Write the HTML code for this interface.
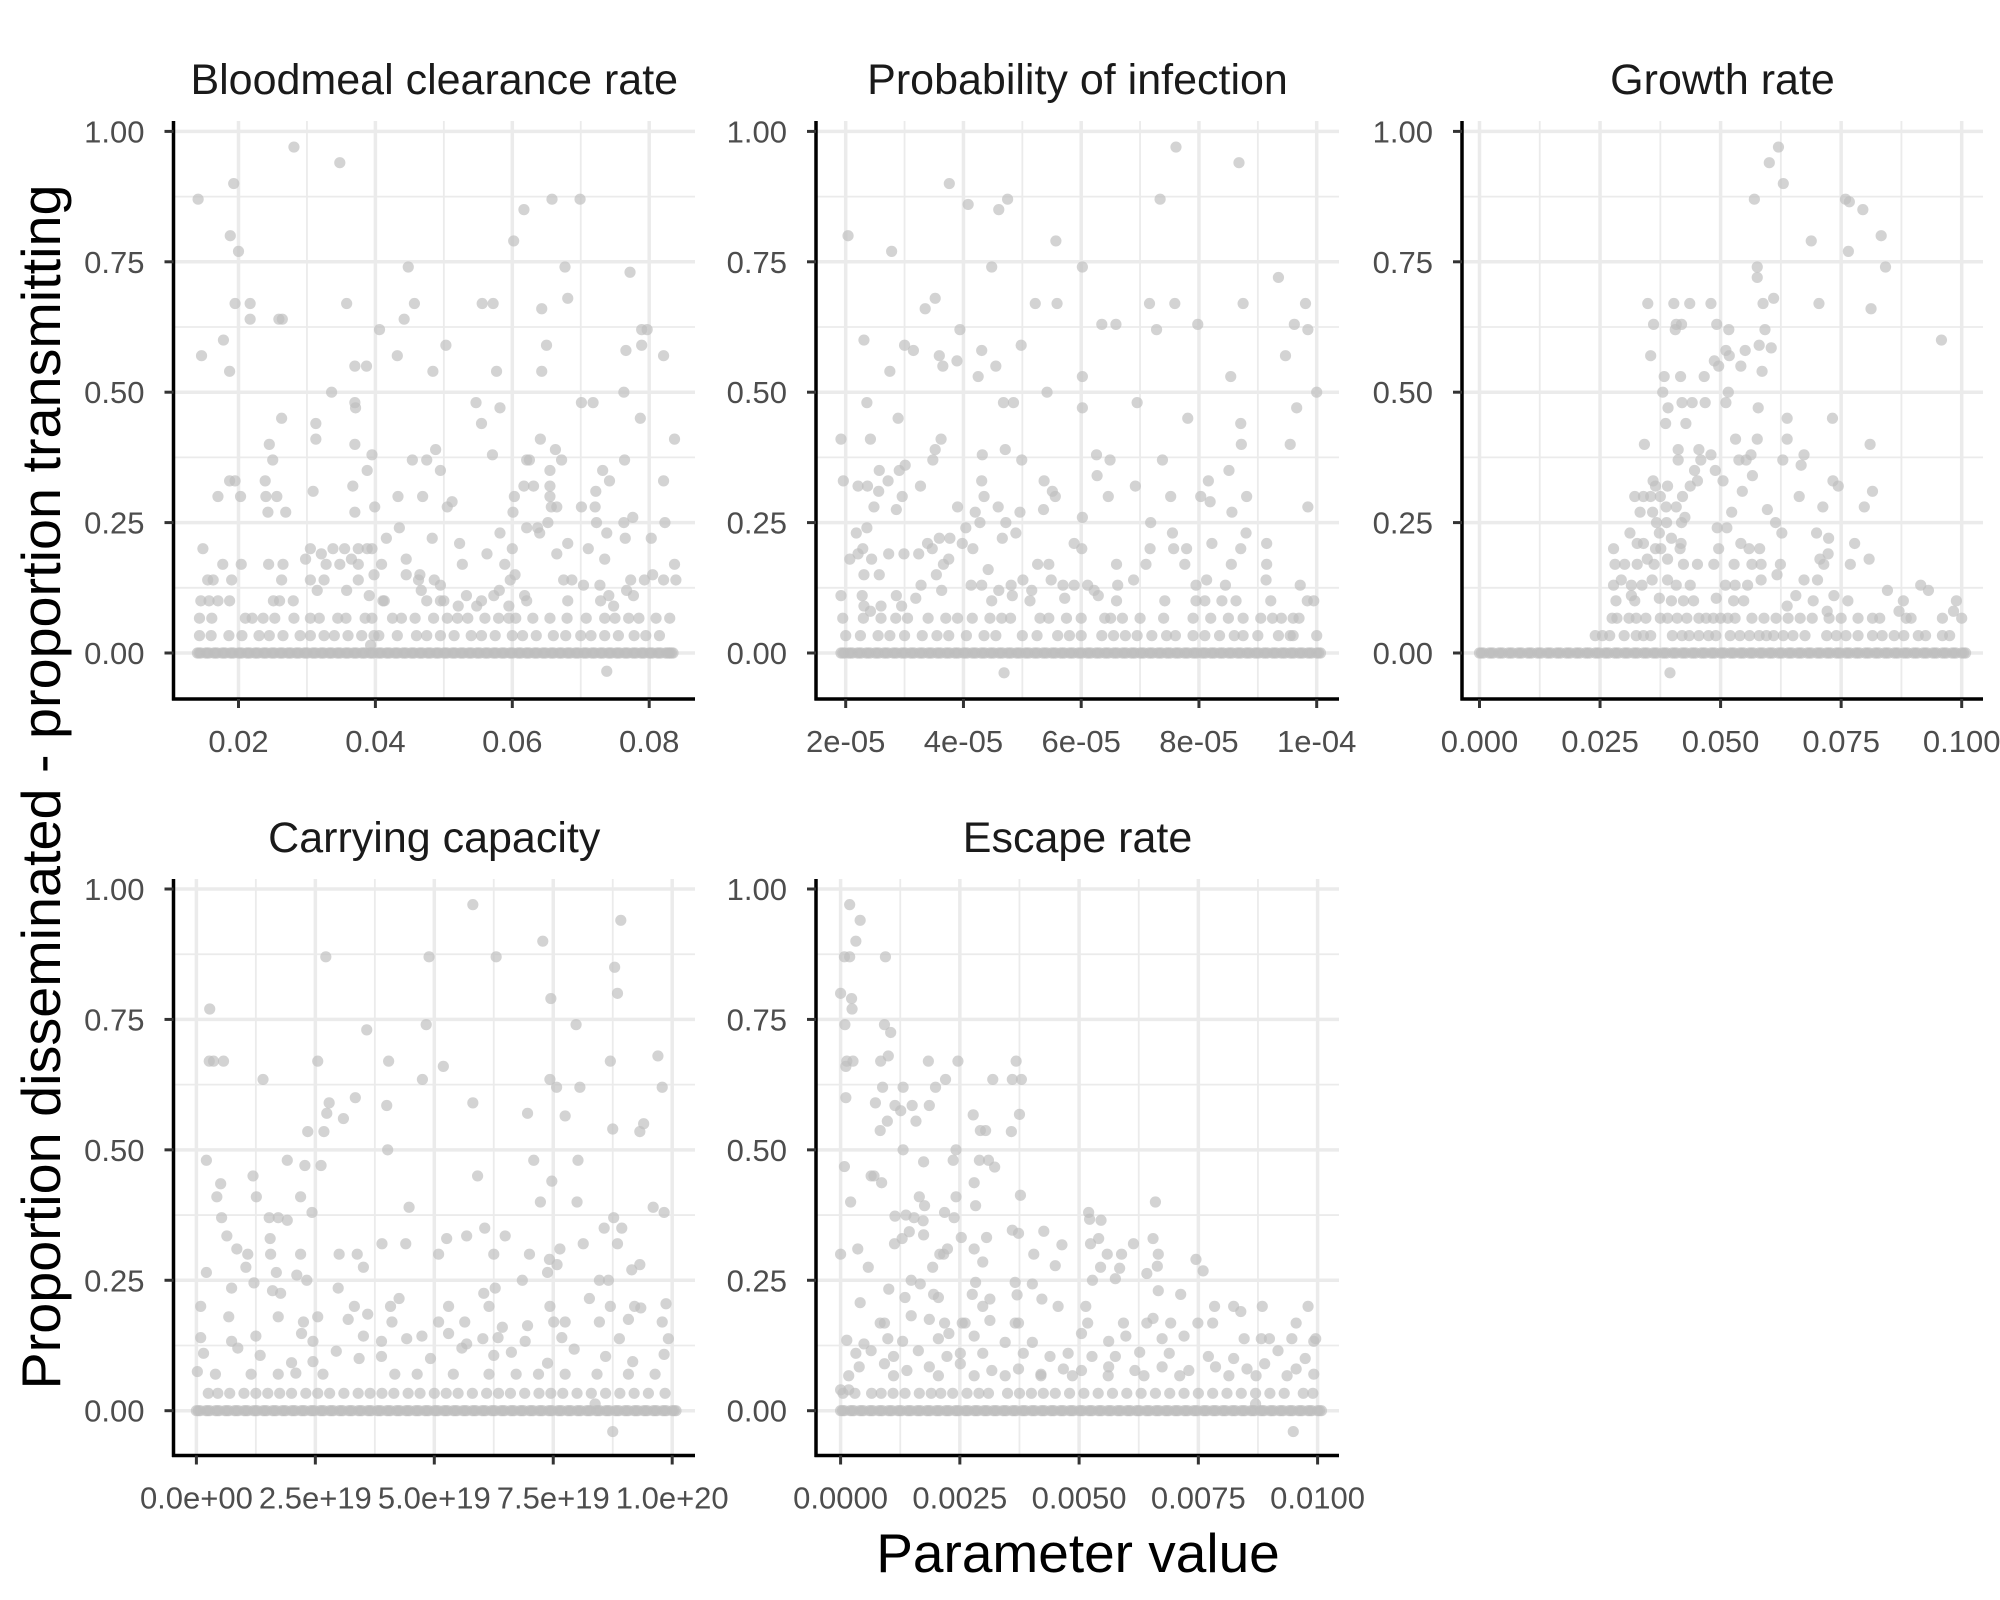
<!DOCTYPE html>
<html><head><meta charset="utf-8"><title>Sensitivity scatter panels</title>
<style>
html,body{margin:0;padding:0;background:#fff;}
svg{display:block;font-family:"Liberation Sans",Arial,sans-serif;}
</style></head>
<body>
<svg id="chart" width="2000" height="1600" viewBox="0 0 2000 1600" xmlns="http://www.w3.org/2000/svg">
<rect width="2000" height="1600" fill="#fff"/>
<text x="41" y="787" transform="rotate(-90 41 787)" text-anchor="middle" dominant-baseline="central" font-size="55" fill="#000" textLength="1205" lengthAdjust="spacingAndGlyphs">Proportion disseminated - proportion transmitting</text>
<text x="1078" y="1572" text-anchor="middle" font-size="55" fill="#000">Parameter value</text>
</svg>
<script>
// ---------- Panel 1: Bloodmeal clearance rate ----------
const p1X = [0.0141,0.0193,0.0281,0.0348,0.0188,0.02,0.0146,0.0195,0.0217,0.0217,0.0178,0.0187,0.0259,0.0264,0.0263,0.0245,0.025,0.0239,0.0187,0.0195,0.017,0.0203,0.024,0.0256,0.0243,0.0269,0.0148,0.0177,0.0204,0.0244,0.0265,0.0263,0.0155,0.0163,0.019,0.0145,0.0157,0.017,0.0187,0.0251,0.026,0.028,
0.0358,0.037,0.0387,0.0336,0.037,0.0371,0.037,0.0367,0.037,0.0388,0.0395,0.0399,0.0313,0.0313,0.0309,0.0406,0.0432,0.0448,0.0442,0.0457,0.0484,0.0503,0.0488,0.0475,0.0454,0.0495,0.0433,0.0469,0.0505,0.0512,0.0435,0.0416,0.0483,0.0547,0.0555,0.0556,0.0572,0.0577,0.0582,0.0571,0.0602,0.0617,0.0658,0.0699,0.0677,0.0681,0.0643,0.065,0.0643,0.0641,0.0663,0.0672,0.0625,0.0621,0.0655,0.0655,0.0617,0.0631,0.0655,0.0603,0.0657,0.0665,0.0601,0.0582,0.0621,0.0637,0.064,0.0652,0.0701,0.0718,0.0701,0.0721,0.0723,0.0722,0.0732,0.0742,0.0763,0.0764,0.0766,0.0789,0.0789,0.0797,0.0772,0.0787,0.0821,0.0821,0.0837,0.0823,0.0776,0.0763,0.0735,0.0738,0.0711,0.0681,0.0765,0.0803,0.0837,0.0839,0.0821,0.0805,0.0793,0.0773,0.0767,0.0777,0.0748,0.0729,0.0704,0.0687,0.0675,0.0681,0.0665,0.06,0.0589,0.0597,0.0604,0.0563,0.0581,0.0523,0.0527,0.0533,0.0521,0.0548,0.0495,0.0486,0.05,0.0465,0.0463,0.0445,0.0445,0.0409,0.0398,0.0395,0.0388,0.0375,0.0355,0.0338,0.0305,0.0298,0.0321,0.0328,0.0348,0.0365,0.0375,0.0375,0.0325,0.0305,0.0315,0.0358,0.0391,0.0411,0.0413,0.0467,0.0475,0.0495,0.0555,0.0573,0.0595,0.0618,0.0621,0.0741,0.0728,0.0738,0.0393];
const p1Y = [0.87,0.90,0.97,0.94,0.80,0.77,0.57,0.67,0.67,0.64,0.60,0.54,0.64,0.64,0.45,0.40,0.37,0.33,0.33,0.33,0.30,0.30,0.30,0.30,0.27,0.27,0.20,0.17,0.17,0.17,0.17,0.14,0.14,0.14,0.14,0.10,0.10,0.10,0.10,0.10,0.10,0.10,
0.67,0.55,0.55,0.50,0.48,0.47,0.40,0.32,0.27,0.35,0.38,0.28,0.44,0.41,0.31,0.62,0.57,0.74,0.64,0.67,0.54,0.59,0.39,0.37,0.37,0.35,0.30,0.30,0.28,0.29,0.24,0.22,0.22,0.48,0.44,0.67,0.67,0.54,0.47,0.38,0.79,0.85,0.87,0.87,0.74,0.68,0.66,0.59,0.54,0.41,0.39,0.37,0.37,0.37,0.35,0.32,0.32,0.32,0.30,0.30,0.28,0.28,0.27,0.23,0.24,0.24,0.23,0.25,0.48,0.48,0.28,0.28,0.25,0.31,0.35,0.33,0.50,0.37,0.58,0.59,0.62,0.62,0.73,0.45,0.57,0.33,0.41,0.25,0.26,0.25,0.18,0.23,0.20,0.21,0.22,0.22,0.17,0.14,0.14,0.15,0.14,0.14,0.12,0.11,0.09,0.10,0.13,0.14,0.14,0.10,0.19,0.20,0.17,0.14,0.15,0.19,0.12,0.21,0.17,0.11,0.09,0.09,0.13,0.14,0.10,0.15,0.14,0.18,0.15,0.17,0.15,0.20,0.20,0.20,0.20,0.20,0.20,0.18,0.19,0.17,0.17,0.18,0.17,0.14,0.14,0.14,0.12,0.12,0.11,0.10,0.10,0.12,0.10,0.10,0.10,0.11,0.09,0.11,0.10,0.11,0.13,-0.035,0.015];
const p1Row067 = [0.0143,0.0161,0.021,0.022,0.0236,0.0253,0.0281,0.0305,0.0318,0.0345,0.0357,0.0385,0.0395,0.0425,0.0438,0.0458,0.0485,0.0505,0.052,0.0535,0.056,0.058,0.0595,0.0605,0.063,0.0655,0.068,0.0708,0.0735,0.075,0.077,0.0785,0.081,0.083];
const p1Row033 = [0.0143,0.016,0.0186,0.0205,0.023,0.0245,0.0265,0.029,0.0305,0.0325,0.034,0.036,0.038,0.0398,0.0405,0.0432,0.046,0.0475,0.0495,0.0515,0.054,0.0555,0.0575,0.06,0.0615,0.0635,0.066,0.0678,0.07,0.0715,0.0735,0.0755,0.0778,0.0795,0.0815];
const p1Zero = [0.0140,0.0152,0.0164,0.0176,0.0188,0.0200,0.0212,0.0224,0.0236,0.0248,0.0260,0.0272,0.0284,0.0296,0.0308,0.0320,0.0332,0.0344,0.0356,0.0368,0.0380,0.0392,0.0404,0.0416,0.0428,0.0440,0.0452,0.0464,0.0476,0.0488,0.0500,0.0512,0.0524,0.0536,0.0548,0.0560,0.0572,0.0584,0.0596,0.0608,0.0620,0.0632,0.0644,0.0656,0.0668,0.0680,0.0692,0.0704,0.0716,0.0728,0.0740,0.0752,0.0764,0.0776,0.0788,0.0800,0.0812,0.0824,0.0830];
const p1Ticks = [0.02,0.04,0.06,0.08];
const p1TickLabels = ["0.02","0.04","0.06","0.08"];

// ---------- Panel 2: Probability of infection (x in 1e-5) ----------
const p2X = [2.04,2.78,3.76,4.08,4.6,4.75,5.57,7.61,8.68,7.34,6.02,4.48,9.35,5.22,5.59,7.16,7.59,8.75,9.81,3.52,3.35,6.35,6.59,7.98,9.62,7.28,9.85,3.94,2.31,3.0,3.15,4.31,4.98,3.59,3.65,3.89,4.55,2.75,4.25,6.02,8.54,9.47,5.42,10.0,4.68,4.85,6.95,6.02,9.66,2.36,2.89,7.81,8.71,8.72,9.55,1.92,2.42,3.62,3.52,3.48,4.71,4.32,4.99,6.26,6.49,7.38,1.96,2.57,2.91,3.01,2.21,2.37,2.72,2.56,2.96,3.27,4.31,4.35,5.37,5.51,5.56,6.27,6.46,6.92,7.52,8.03,8.16,8.19,8.51,8.81,8.56,9.85,2.48,2.86,3.9,4.59,4.2,4.28,4.04,4.72,4.96,5.36,6.02,7.18,7.55,8.8,2.36,2.18,4.66,4.89,3.98,4.16,3.59,3.77,3.39,3.47,2.29,2.21,2.07,2.73,2.99,3.24,3.75,5.88,6.01,7.17,7.79,7.57,8.22,8.71,9.15,9.15,8.55,7.76,7.1,6.6,5.45,5.26,4.42,3.66,2.44,2.57,2.31,3.28,3.54,4.13,4.31,4.81,5.01,5.49,5.69,5.88,6.11,6.62,6.89,7.95,8.13,8.45,9.14,9.72,4.6,5.16,6.22,1.92,2.28,2.86,3.19,3.63,4.48,4.83,5.13,5.72,6.29,6.6,7.42,7.95,8.1,8.39,8.63,9.22,9.84,9.95,2.31,2.6,2.95,2.42,4.69];
const p2Y = [0.80,0.77,0.90,0.86,0.85,0.87,0.79,0.97,0.94,0.87,0.74,0.74,0.72,0.67,0.67,0.67,0.67,0.67,0.67,0.68,0.66,0.63,0.63,0.63,0.63,0.62,0.62,0.62,0.60,0.59,0.58,0.58,0.59,0.57,0.55,0.56,0.55,0.54,0.53,0.53,0.53,0.57,0.50,0.50,0.48,0.48,0.48,0.47,0.47,0.48,0.45,0.45,0.44,0.40,0.40,0.41,0.41,0.41,0.39,0.37,0.39,0.38,0.37,0.38,0.37,0.37,0.33,0.35,0.35,0.36,0.32,0.32,0.33,0.31,0.30,0.32,0.33,0.30,0.33,0.31,0.30,0.34,0.30,0.32,0.30,0.30,0.33,0.29,0.35,0.30,0.27,0.28,0.28,0.275,0.28,0.28,0.27,0.25,0.24,0.25,0.27,0.275,0.26,0.25,0.23,0.23,0.24,0.23,0.22,0.23,0.21,0.20,0.22,0.22,0.21,0.20,0.20,0.19,0.18,0.19,0.19,0.19,0.18,0.21,0.20,0.20,0.20,0.20,0.21,0.20,0.21,0.17,0.17,0.17,0.17,0.17,0.17,0.17,0.16,0.17,0.18,0.15,0.15,0.13,0.15,0.13,0.13,0.13,0.14,0.14,0.13,0.13,0.13,0.13,0.14,0.13,0.14,0.13,0.14,0.13,0.12,0.12,0.12,0.11,0.11,0.11,0.105,0.12,0.10,0.11,0.10,0.105,0.11,0.10,0.10,0.10,0.10,0.10,0.10,0.10,0.10,0.10,0.09,0.09,0.09,0.08,-0.038];
const p2Row067 = [1.95,2.3,2.6,2.85,3.05,3.4,3.7,3.9,4.15,4.45,4.65,4.8,5.3,5.45,5.75,6.0,6.4,6.5,6.7,7.0,7.4,7.9,8.2,8.5,8.75,9.05,9.25,9.4,9.6,9.7];
const p2Row033 = [2.0,2.25,2.55,2.75,3.0,3.3,3.55,3.75,4.05,4.35,4.55,5.0,5.25,5.6,5.8,6.0,6.35,6.55,6.75,6.95,7.2,7.45,7.6,7.9,8.1,8.35,8.6,8.75,9.0,9.35,9.55,9.6,10.0];
const p2Zero = [1.92,2.05,2.2,2.35,2.5,2.65,2.8,2.95,3.1,3.25,3.4,3.55,3.7,3.85,4.0,4.15,4.3,4.45,4.6,4.75,4.9,5.05,5.2,5.35,5.5,5.65,5.8,5.95,6.1,6.25,6.4,6.55,6.7,6.85,7.0,7.15,7.3,7.45,7.6,7.75,7.9,8.05,8.2,8.35,8.5,8.65,8.8,8.95,9.1,9.25,9.4,9.55,9.7,9.85,10.0];
const p2Ticks = [2,4,6,8,10];
const p2TickLabels = ["2e-05","4e-05","6e-05","8e-05","1e-04"];

// ---------- Panel 3: Growth rate (x in 1e-3) ----------
const p3X = [62.0,60.1,63.0,57.0,75.9,76.7,79.5,83.3,68.8,76.5,84.2,57.6,57.6,61.0,70.4,81.2,95.8,34.9,40.3,43.6,48.0,58.8,36.1,40.8,41.9,49.2,40.6,51.7,59.2,35.5,51.1,55.1,58.0,60.5,48.7,49.6,51.8,54.2,38.3,41.7,46.6,58.6,38.0,42.0,44.1,46.8,51.6,51.1,39.1,57.8,38.6,42.8,63.8,73.2,81.0,34.2,41.2,45.5,48.0,53.1,57.6,63.8,41.2,45.9,53.8,55.3,56.3,62.9,66.7,67.3,44.6,48.9,50.5,56.6,36.0,36.5,39.0,45.2,43.7,54.5,73.3,74.4,81.5,32.2,34.0,35.5,37.5,38.7,40.8,42.1,33.3,35.9,38.8,41.9,42.6,52.3,59.7,66.3,71.2,79.8,31.2,36.7,37.3,39.8,49.3,51.3,61.4,62.7,69.9,72.4,27.8,32.7,34.0,36.5,37.6,41.8,41.6,54.2,55.9,58.1,49.6,77.8,80.8,72.3,70.6,28.1,30.1,32.7,34.8,36.2,39.0,42.3,45.2,48.6,52.8,56.5,58.4,62.4,71.4,76.9,27.8,29.4,31.5,33.7,35.8,39.0,40.8,43.7,51.0,53.0,55.6,58.4,61.7,67.3,70.1,84.6,91.5,93.1,28.3,31.5,32.2,37.3,39.8,42.3,44.4,49.1,52.7,54.8,63.8,65.6,69.2,73.5,76.4,87.9,98.9,98.3,87.0,72.1,39.5];
const p3Y = [0.97,0.94,0.90,0.87,0.87,0.865,0.85,0.80,0.79,0.77,0.74,0.74,0.72,0.68,0.67,0.66,0.60,0.67,0.67,0.67,0.67,0.67,0.63,0.63,0.63,0.63,0.62,0.62,0.62,0.57,0.58,0.58,0.59,0.585,0.56,0.55,0.57,0.55,0.53,0.53,0.53,0.54,0.50,0.48,0.48,0.48,0.50,0.48,0.47,0.47,0.44,0.44,0.45,0.45,0.40,0.40,0.39,0.39,0.38,0.41,0.41,0.41,0.37,0.37,0.37,0.37,0.38,0.37,0.36,0.38,0.35,0.35,0.33,0.34,0.33,0.32,0.32,0.33,0.32,0.31,0.33,0.32,0.31,0.30,0.30,0.30,0.30,0.28,0.28,0.30,0.27,0.27,0.25,0.25,0.26,0.27,0.275,0.30,0.28,0.28,0.23,0.25,0.23,0.22,0.24,0.24,0.25,0.23,0.23,0.22,0.20,0.21,0.21,0.20,0.20,0.21,0.20,0.21,0.20,0.20,0.20,0.21,0.18,0.19,0.18,0.17,0.17,0.17,0.18,0.17,0.18,0.17,0.17,0.17,0.17,0.17,0.17,0.17,0.17,0.17,0.13,0.14,0.13,0.13,0.14,0.14,0.13,0.13,0.13,0.13,0.13,0.14,0.15,0.14,0.14,0.12,0.13,0.12,0.10,0.11,0.10,0.105,0.10,0.10,0.10,0.105,0.10,0.10,0.09,0.11,0.10,0.11,0.10,0.10,0.10,0.08,0.08,0.08,-0.038];
const p3Row067 = [27.5,28.5,31.0,32.5,34.5,37.5,39.0,41.0,43.0,45.5,47.0,48.5,50.0,51.5,53.0,56.5,59.0,61.5,64.0,66.5,69.0,72.5,75.0,78.5,81.5,83.0,88.5,89.5,96.0,100.0];
const p3Row033 = [24.0,25.5,27.0,30.0,32.5,34.0,35.5,40.0,42.0,43.5,45.5,47.5,49.0,52.0,54.0,56.0,58.0,59.5,61.0,63.0,65.0,67.5,72.0,74.0,76.0,78.5,81.5,83.5,86.0,88.0,91.0,92.5,96.0,97.5];
const p3Zero = [0,2,4,6,8,10,12,14,16,18,20,22,24,26,28,30,32,34,36,38,40,42,44,46,48,50,52,54,56,58,60,62,64,66,68,70,72,74,76,78,80,82,84,86,88,90,92,94,96,98,100];
const p3Ticks = [0,25,50,75,100];
const p3TickLabels = ["0.000","0.025","0.050","0.075","0.100"];

// ---------- Panel 4: Carrying capacity (x in 1e18) ----------
const p4X = [58.1,89.2,72.8,27.2,48.9,63.0,87.9,88.5,74.5,2.8,48.3,79.8,35.8,2.7,3.6,5.7,25.5,40.4,87.0,97.0,51.9,14.0,47.5,74.3,75.7,80.6,97.9,27.9,33.4,40.0,58.1,69.6,27.4,30.9,77.5,94.0,93.2,87.5,23.4,26.8,40.2,2.1,19.1,26.2,22.8,70.9,80.2,59.1,11.9,74.7,5.1,44.7,96.0,98.3,24.3,72.3,80.0,4.3,12.6,21.9,5.3,15.3,17.2,19.1,87.7,85.7,89.4,60.6,64.9,56.8,52.6,6.4,15.5,8.5,39.0,44.0,81.3,88.5,10.8,15.6,21.9,30.0,33.8,50.9,62.5,70.0,74.2,76.4,2.1,10.4,35.1,16.8,21.1,23.2,68.5,73.8,75.8,84.7,86.6,91.5,93.2,12.1,7.4,16.0,29.8,17.7,60.4,62.8,42.6,82.6,98.7,0.9,33.2,40.8,53.0,61.5,74.3,87.0,92.1,93.4,6.8,17.2,25.5,36.0,31.9,41.1,50.9,56.4,64.3,69.6,75.1,77.5,84.7,90.8,97.9,0.9,7.4,12.5,22.5,22.1,24.5,35.1,38.9,44.2,47.4,53.0,56.8,60.2,63.4,69.1,76.8,88.9,99.2,1.5,8.7,13.4,20.0,24.5,29.4,34.2,38.9,49.2,55.8,62.5,66.2,73.8,79.4,86.0,91.7,98.3,0.2,4.0,11.5,17.2,20.9,26.6,41.7,46.4,54.0,61.5,67.2,71.9,77.5,84.2,90.8,96.4,87.5,83.8];
const p4Y = [0.97,0.94,0.90,0.87,0.87,0.87,0.85,0.80,0.79,0.77,0.74,0.74,0.73,0.67,0.67,0.67,0.67,0.67,0.67,0.68,0.66,0.635,0.635,0.635,0.62,0.62,0.62,0.59,0.60,0.585,0.59,0.57,0.57,0.56,0.565,0.55,0.535,0.54,0.535,0.535,0.50,0.48,0.48,0.47,0.47,0.48,0.48,0.45,0.45,0.44,0.435,0.39,0.39,0.38,0.38,0.40,0.40,0.41,0.41,0.41,0.37,0.37,0.37,0.365,0.37,0.35,0.35,0.35,0.335,0.335,0.33,0.335,0.33,0.31,0.32,0.32,0.32,0.32,0.30,0.30,0.30,0.30,0.30,0.30,0.30,0.30,0.29,0.31,0.265,0.275,0.275,0.265,0.26,0.25,0.25,0.265,0.28,0.25,0.25,0.27,0.28,0.245,0.235,0.23,0.235,0.225,0.225,0.235,0.215,0.215,0.205,0.20,0.20,0.20,0.20,0.20,0.20,0.20,0.20,0.197,0.18,0.18,0.18,0.185,0.175,0.17,0.17,0.17,0.16,0.163,0.17,0.17,0.17,0.175,0.17,0.14,0.133,0.143,0.17,0.148,0.133,0.143,0.133,0.138,0.143,0.148,0.128,0.138,0.14,0.133,0.14,0.138,0.138,0.11,0.12,0.106,0.092,0.094,0.114,0.10,0.104,0.10,0.12,0.106,0.112,0.091,0.118,0.104,0.094,0.108,0.075,0.07,0.07,0.07,0.072,0.07,0.07,0.07,0.07,0.07,0.07,0.07,0.07,0.07,0.07,0.07,-0.04,0.013];
const p4Row033 = [2.5,4.5,7.0,10.0,12.5,15.0,17.5,20.0,23.0,25.5,28.0,31.0,34.0,36.5,39.0,41.5,44.5,47.0,50.0,52.5,55.0,58.0,61.0,63.5,66.0,69.0,72.0,74.5,77.0,80.0,83.0,86.0,89.0,92.0,95.0,98.5];
const p4Zero = [0,2,4,6,8,10,12,14,16,18,20,22,24,26,28,30,32,34,36,38,40,42,44,46,48,50,52,54,56,58,60,62,64,66,68,70,72,74,76,78,80,82,84,86,88,90,92,94,96,98,100];
const p4Ticks = [0,25,50,75,100];
const p4TickLabels = ["0.0e+00","2.5e+19","5.0e+19","7.5e+19","1.0e+20"];

// ---------- Panel 5: Escape rate (x in 1e-4) ----------
const p5X = [1.9,4.1,3.2,0.8,1.9,9.4,0,2.3,2.4,0.9,9.2,10.5,1.3,2.6,1.1,8.4,10.0,18.4,24.6,22.0,31.9,36.0,37.9,36.8,1.1,8.8,13.1,11.4,7.3,15.0,18.6,19.9,12.6,15.8,9.8,8.3,27.8,29.3,30.4,35.8,37.5,13.1,24.2,23.6,29.1,31.0,17.4,32.3,0.8,6.4,7.0,8.6,28.0,2.1,16.5,24.2,37.7,28.3,17.6,11.4,13.7,15.4,17.3,21.8,23.8,52.0,54.6,52.2,66.0,11.3,12.9,14.4,17.4,21.6,22.4,20.8,25.3,30.6,28.0,36.0,37.3,42.6,46.4,40.5,52.4,54.1,55.9,58.9,61.4,66.6,65.5,74.5,3.6,0,5.8,19.3,28.3,29.8,36.6,40.2,45.0,52.8,54.5,57.6,58.5,64.2,66.4,66.6,76.0,14.8,16.7,4.1,10.1,13.5,19.5,20.5,27.6,29.8,31.3,37.0,42.2,45.6,51.4,71.3,78.4,82.4,83.9,88.4,98.0,8.3,9.2,14.8,18.6,21.8,25.5,26.1,31.3,36.6,37.3,51.8,59.3,64.2,65.5,69.2,74.9,78.0,95.5,1.3,4.9,9.9,13.0,20.5,22.7,28.0,34.5,40.2,50.5,56.2,59.8,67.4,72.0,84.6,88.2,89.9,94.6,99.6,99.2,3.2,6.4,11.1,16.3,22.3,25.1,29.8,38.3,43.9,47.7,52.7,57.6,62.7,68.9,77.1,82.4,91.7,97.4,3.9,9.2,13.9,18.6,25.1,31.7,37.3,42.0,46.7,50.5,56.2,61.7,67.4,73.0,78.6,85.2,88.9,95.5,99.2,1.7,11.1,20.5,28.0,34.5,42.0,48.6,56.1,63.6,71.1,81.4,87.1,93.6,0,1.7,94.9,87.0];
const p5Y = [0.97,0.94,0.90,0.87,0.87,0.87,0.80,0.79,0.77,0.74,0.74,0.725,0.67,0.67,0.66,0.67,0.68,0.67,0.67,0.635,0.635,0.635,0.635,0.67,0.60,0.62,0.62,0.585,0.59,0.585,0.585,0.62,0.575,0.555,0.555,0.537,0.567,0.537,0.537,0.535,0.568,0.50,0.50,0.48,0.48,0.48,0.477,0.467,0.468,0.45,0.45,0.437,0.437,0.40,0.41,0.41,0.413,0.393,0.393,0.373,0.375,0.37,0.364,0.38,0.37,0.38,0.365,0.367,0.40,0.32,0.33,0.343,0.337,0.30,0.31,0.30,0.332,0.332,0.31,0.346,0.34,0.344,0.318,0.30,0.32,0.33,0.30,0.30,0.32,0.30,0.33,0.29,0.31,0.30,0.275,0.275,0.246,0.285,0.246,0.243,0.278,0.25,0.275,0.253,0.273,0.263,0.277,0.23,0.268,0.25,0.243,0.207,0.233,0.217,0.223,0.217,0.223,0.20,0.214,0.222,0.214,0.20,0.20,0.223,0.20,0.20,0.19,0.20,0.20,0.168,0.168,0.182,0.175,0.168,0.168,0.168,0.173,0.168,0.168,0.168,0.168,0.168,0.177,0.168,0.168,0.168,0.168,0.135,0.128,0.138,0.133,0.138,0.148,0.143,0.131,0.131,0.148,0.133,0.143,0.138,0.143,0.138,0.138,0.138,0.138,0.138,0.133,0.11,0.115,0.104,0.115,0.104,0.11,0.11,0.11,0.104,0.11,0.104,0.104,0.112,0.11,0.104,0.10,0.115,0.10,0.084,0.09,0.077,0.084,0.09,0.077,0.08,0.07,0.08,0.077,0.084,0.077,0.084,0.077,0.084,0.08,0.09,0.08,0.07,0.067,0.067,0.067,0.067,0.067,0.067,0.067,0.067,0.067,0.067,0.067,0.067,0.067,0.04,0.04,-0.04,0.013];
const p5Row033 = [0.5,3.0,6.5,8.5,11.0,13.5,16.5,19.0,21.0,23.5,26.5,29.0,31.0,35.0,37.5,40.0,42.5,45.0,48.0,51.0,54.0,57.0,60.0,63.0,66.0,69.0,72.0,75.0,78.0,81.0,84.0,87.0,90.0,93.0,97.0,99.0];
const p5Zero = [0,2,4,6,8,10,12,14,16,18,20,22,24,26,28,30,32,34,36,38,40,42,44,46,48,50,52,54,56,58,60,62,64,66,68,70,72,74,76,78,80,82,84,86,88,90,92,94,96,98,100];
const p5Ticks = [0,25,50,75,100];
const p5TickLabels = ["0.0000","0.0025","0.0050","0.0075","0.0100"];

const yTicks = [0,0.25,0.5,0.75,1];
const yTickLabels = ["0.00","0.25","0.50","0.75","1.00"];

const svg = document.getElementById('chart');
const NS = 'http://www.w3.org/2000/svg';
function mk(tag, attrs, parent){
  const e = document.createElementNS(NS, tag);
  for (const k in attrs) e.setAttribute(k, attrs[k]);
  (parent || svg).appendChild(e);
  return e;
}

function panel(cfg){
  const g = mk('g', {});
  
  
  const sx = v => cfg.px0 + (v - cfg.v0) / (cfg.v1 - cfg.v0) * (cfg.px1 - cfg.px0);
  const sy = v => cfg.y0 - v * (cfg.y0 - cfg.y1);
  const L = cfg.left, R = cfg.right, T = cfg.top, B = cfg.bottom;
  for (let i = 0; i < yTicks.length; i++) {
    const m = yTicks[i] + 0.125;
    if (sy(m) > T) { const l = mk('line', {x1:L, x2:R, y1:sy(m), y2:sy(m), stroke:'#ebebeb', 'stroke-width':1.8}, g);   }
  }
  const step = cfg.ticks[1] - cfg.ticks[0];
  for (let i = -1; i < cfg.ticks.length; i++) {
    const m = cfg.ticks[0] + (i + 0.5) * step;
    const x = sx(m);
    if (x > L && x < R) { const l = mk('line', {x1:x, x2:x, y1:T, y2:B, stroke:'#ebebeb', 'stroke-width':1.8}, g);   }
  }
  yTicks.forEach(v => { const l = mk('line', {x1:L, x2:R, y1:sy(v), y2:sy(v), stroke:'#ebebeb', 'stroke-width':3.5}, g);   });
  cfg.ticks.forEach(v => { const l = mk('line', {x1:sx(v), x2:sx(v), y1:T, y2:B, stroke:'#ebebeb', 'stroke-width':3.5}, g);   });
  const pg = mk('g', {fill:'#bebebe', 'fill-opacity':0.68}, g);
  
  
  function dot(xv, yv){
    const c = mk('circle', {cx:sx(xv), cy:sy(yv), r:5.6}, pg);
    
    
  }
  cfg.zero.forEach(v => dot(v, 0));
  cfg.zero.forEach(v => dot(v + (cfg.v1 - cfg.v0) * 0.004, 0));
  cfg.zero.forEach(v => dot(v + (cfg.v1 - cfg.v0) * 0.008, 0));
  if (cfg.row033) cfg.row033.forEach(v => dot(v, 1/30));
  if (cfg.row067) cfg.row067.forEach(v => dot(v, 2/30));
  for (let i = 0; i < cfg.xs.length; i++) dot(cfg.xs[i], cfg.ys[i]);
  const ya = mk('line', {x1:L, x2:L, y1:T, y2:B + 1.5, stroke:'#000', 'stroke-width':3.5}, g);
   
  const xa = mk('line', {x1:L - 1.5, x2:R, y1:B, y2:B, stroke:'#000', 'stroke-width':3.5}, g);
   
  yTicks.forEach((v, i) => {
    const t = mk('line', {x1:L - 9, x2:L, y1:sy(v), y2:sy(v), stroke:'#333', 'stroke-width':3}, g);
     
    const tx = mk('text', {x:L - 29, y:sy(v) + 11, 'text-anchor':'end', 'font-size':31, fill:'#4d4d4d'}, g);
    tx.textContent = yTickLabels[i];
     
  });
  cfg.ticks.forEach((v, i) => {
    const t = mk('line', {x1:sx(v), x2:sx(v), y1:B, y2:B + 9, stroke:'#333', 'stroke-width':3}, g);
     
    const tx = mk('text', {x:sx(v), y:B + 53, 'text-anchor':'middle', 'font-size':31, fill:'#4d4d4d'}, g);
    tx.textContent = cfg.labels[i];
     
  });
  const ti = mk('text', {x:(L + R) / 2, y:cfg.titleY, 'text-anchor':'middle', 'font-size':43, fill:'#1a1a1a'}, g);
  ti.textContent = cfg.title;
   
}

const row1 = {y0:653, y1:131.4, top:121, bottom:699, titleY:94};
const row2 = {y0:1410.7, y1:889, top:879, bottom:1455.5, titleY:852};

panel(Object.assign({name:'panel-bloodmeal-clearance-rate', title:'Bloodmeal clearance rate', left:173.5, right:695, px0:238.5, px1:649.2, v0:0.02, v1:0.08, xs:p1X, ys:p1Y, zero:p1Zero, row033:p1Row033, row067:p1Row067, ticks:p1Ticks, labels:p1TickLabels}, row1));
panel(Object.assign({name:'panel-probability-of-infection', title:'Probability of infection', left:816, right:1339, px0:845.7, px1:1316.7, v0:2, v1:10, xs:p2X, ys:p2Y, zero:p2Zero, row033:p2Row033, row067:p2Row067, ticks:p2Ticks, labels:p2TickLabels}, row1));
panel(Object.assign({name:'panel-growth-rate', title:'Growth rate', left:1462, right:1983, px0:1479.5, px1:1961.7, v0:0, v1:100, xs:p3X, ys:p3Y, zero:p3Zero, row033:p3Row033, row067:p3Row067, ticks:p3Ticks, labels:p3TickLabels}, row1));
panel(Object.assign({name:'panel-carrying-capacity', title:'Carrying capacity', left:173.5, right:695, px0:196.4, px1:672.2, v0:0, v1:100, xs:p4X, ys:p4Y, zero:p4Zero, row033:p4Row033, row067:null, ticks:p4Ticks, labels:p4TickLabels}, row2));
panel(Object.assign({name:'panel-escape-rate', title:'Escape rate', left:816, right:1339, px0:840.6, px1:1317.6, v0:0, v1:100, xs:p5X, ys:p5Y, zero:p5Zero, row033:p5Row033, row067:null, ticks:p5Ticks, labels:p5TickLabels}, row2));
</script>
</body></html>
